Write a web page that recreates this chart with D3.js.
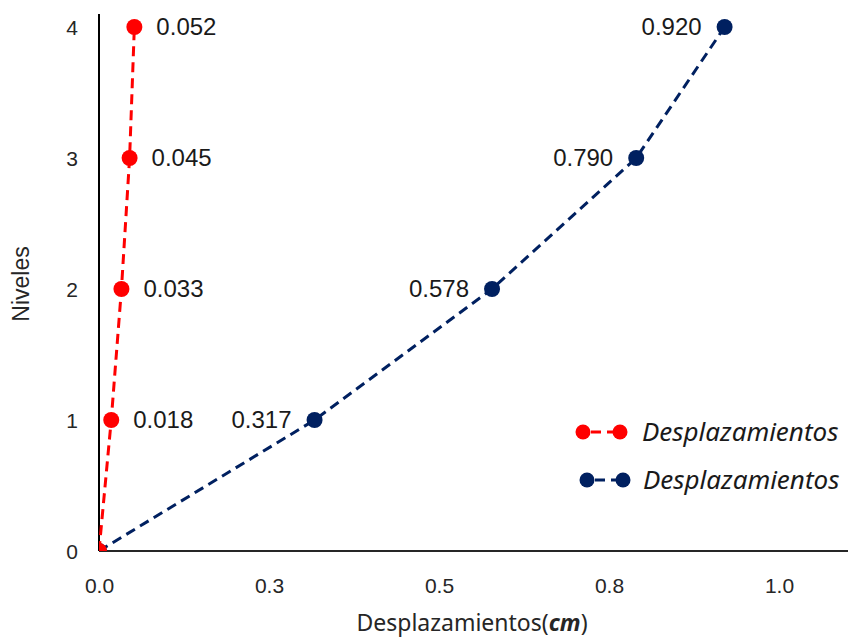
<!DOCTYPE html>
<html>
<head>
<meta charset="utf-8">
<script src="https://cdn.jsdelivr.net/npm/d3@7"></script>
<style>
  html, body { margin: 0; padding: 0; background: #fff; }
  svg { display: block; }
</style>
</head>
<body>
<svg id="chart" width="848" height="637"></svg>
<script>
// ---- data ----
const levels = [0, 1, 2, 3, 4];
const redValues = [0, 0.018, 0.033, 0.045, 0.052];
const blueValues = [0, 0.317, 0.578, 0.790, 0.920];
const seriesNames = ["Desplazamientos", "Desplazamientos"];
const xTickValues = [0, 0.25, 0.5, 0.75, 1.0];
const xTickLabels = ["0.0", "0.3", "0.5", "0.8", "1.0"];
const yTickValues = [0, 1, 2, 3, 4];
const yTickLabels = ["0", "1", "2", "3", "4"];
const xTitle = "Desplazamientos(";
const xTitleUnit = "cm";
const yTitle = "Niveles";

const svg = d3.select("#chart");

const x = d3.scaleLinear().domain([0, 1]).range([99, 779]);
const y = d3.scaleLinear().domain([0, 4]).range([551, 27]);
const plotRight = 848, plotTop = 14, plotBottom = 551, plotLeft = 99;

const RED = "#FF0000", BLUE = "#002060";
const numFont = "'Liberation Sans', Arial, sans-serif";
const textFont = "'Noto Sans', 'Open Sans', sans-serif";

svg.append("defs").append("clipPath").attr("id", "plotclip")
  .append("rect").attr("x", plotLeft).attr("y", plotTop)
  .attr("width", plotRight - plotLeft).attr("height", plotBottom - plotTop);

// x axis
const xAxis = d3.axisBottom(x).tickValues(xTickValues)
  .tickFormat((d, i) => xTickLabels[i]).tickSize(0).tickPadding(0);
const gx = svg.append("g").attr("transform", `translate(0,${plotBottom})`).call(xAxis);
gx.select(".domain").remove();
gx.selectAll("text").attr("font-family", numFont).attr("font-size", 21)
  .attr("fill", "#262626").attr("dy", null).attr("y", 42);
svg.append("line").attr("x1", plotLeft).attr("x2", plotRight)
  .attr("y1", plotBottom).attr("y2", plotBottom)
  .attr("stroke", "#262626").attr("stroke-width", 2);

// y axis
const yAxis = d3.axisLeft(y).tickValues(yTickValues)
  .tickFormat((d, i) => yTickLabels[i]).tickSize(0).tickPadding(0);
const gy = svg.append("g").attr("transform", `translate(${plotLeft},0)`).call(yAxis);
gy.select(".domain").remove();
gy.selectAll("text").attr("font-family", numFont).attr("font-size", 21)
  .attr("fill", "#262626").attr("x", -21).attr("dy", "0.35em");
svg.append("line").attr("x1", plotLeft).attr("x2", plotLeft)
  .attr("y1", plotTop).attr("y2", plotBottom)
  .attr("stroke", "#000").attr("stroke-width", 2);

// axis titles
const xt = svg.append("text").attr("x", 472).attr("y", 631)
  .attr("text-anchor", "middle").attr("font-family", textFont)
  .attr("font-size", 23).attr("fill", "#262626");
xt.append("tspan").text(xTitle);
xt.append("tspan").attr("font-weight", "bold").attr("font-style", "italic").text(xTitleUnit);
xt.append("tspan").text(")");

svg.append("text").attr("transform", `translate(29,284) rotate(-90)`)
  .attr("text-anchor", "middle").attr("font-family", numFont)
  .attr("font-size", 23).attr("fill", "#262626").text(yTitle);

// series
const plot = svg.append("g").attr("clip-path", "url(#plotclip)");
const line = d3.line().x(d => x(d[0])).y(d => y(d[1]));

function drawSeries(values, color) {
  const pts = values.map((v, i) => [v, levels[i]]);
  plot.append("path").datum(pts).attr("d", line)
    .attr("fill", "none").attr("stroke", color).attr("stroke-width", 3)
    .attr("stroke-dasharray", "10,6");
  plot.selectAll(null).data(pts).enter().append("circle")
    .attr("cx", d => x(d[0])).attr("cy", d => y(d[1])).attr("r", 8)
    .attr("fill", color);
  return pts;
}
const bluePts = drawSeries(blueValues, BLUE);
const redPts = drawSeries(redValues, RED);

const fmt = d3.format(".3f");
svg.selectAll(null).data(redPts.filter(d => d[1] > 0)).enter().append("text")
  .attr("x", d => x(d[0]) + 22).attr("y", d => y(d[1])).attr("dy", "0.35em")
  .attr("font-family", numFont).attr("font-size", 24).attr("fill", "#1a1a1a")
  .text(d => fmt(d[0]));
svg.selectAll(null).data(bluePts.filter(d => d[1] > 0)).enter().append("text")
  .attr("x", d => x(d[0]) - 23).attr("y", d => y(d[1])).attr("dy", "0.35em")
  .attr("text-anchor", "end")
  .attr("font-family", numFont).attr("font-size", 24).attr("fill", "#1a1a1a")
  .text(d => fmt(d[0]));

// legend
const legendItems = [
  { name: seriesNames[0], color: RED, x1: 583, x2: 620, y: 432, tx: 642 },
  { name: seriesNames[1], color: BLUE, x1: 587, x2: 623, y: 480, tx: 643 }
];
const lg = svg.append("g");
legendItems.forEach(it => {
  lg.append("line").attr("x1", it.x1).attr("x2", it.x2).attr("y1", it.y).attr("y2", it.y)
    .attr("stroke", it.color).attr("stroke-width", 3).attr("stroke-dasharray", "10,6")
    .attr("stroke-dashoffset", -8);
  [it.x1, it.x2].forEach(cx => lg.append("circle").attr("cx", cx).attr("cy", it.y)
    .attr("r", 7.5).attr("fill", it.color));
  lg.append("text").attr("x", it.tx).attr("y", it.y).attr("dy", "0.35em")
    .attr("font-family", textFont).attr("font-style", "italic")
    .attr("font-size", 26).attr("fill", "#1a1a1a").text(it.name);
});
</script>
</body>
</html>
